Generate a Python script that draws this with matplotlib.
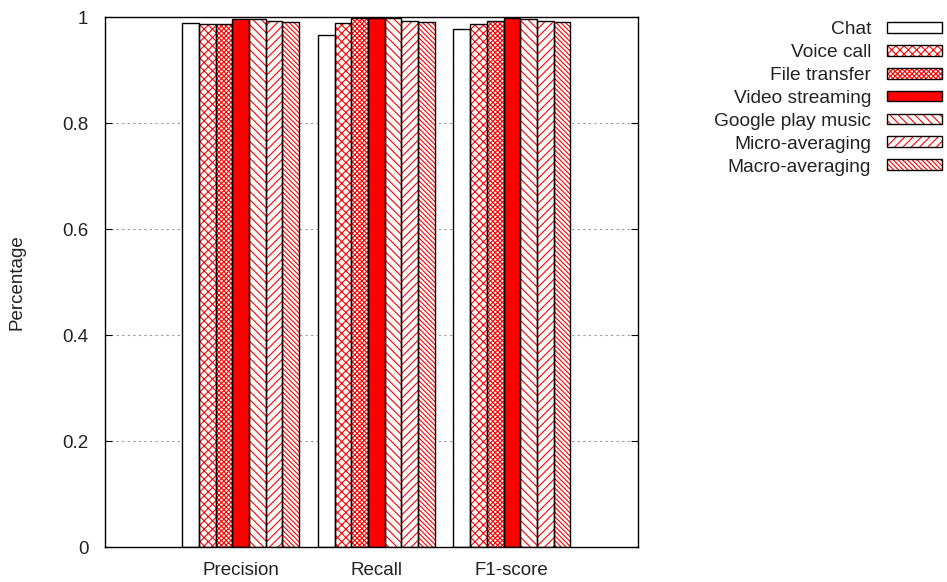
import matplotlib
matplotlib.use("Agg")
import matplotlib.pyplot as plt
import matplotlib.patches as patches
import numpy as np

plt.rcParams['font.family'] = ['Liberation Sans', 'DejaVu Sans']
plt.rcParams['hatch.linewidth'] = 0.8

# data
metrics = ["Precision", "Recall", "F1-score"]
series = ["Chat", "Voice call", "File transfer", "Video streaming",
          "Google play music", "Micro-averaging", "Macro-averaging"]
chat = [0.988, 0.966, 0.977]
voice_call = [0.986, 0.988, 0.986]
file_transfer = [0.986, 0.999, 0.992]
video_streaming = [0.997, 0.998, 0.998]
google_play = [0.997, 0.998, 0.996]
micro_avg = [0.992, 0.992, 0.992]
macro_avg = [0.990, 0.990, 0.990]
values = [chat, voice_call, file_transfer, video_streaming,
          google_play, micro_avg, macro_avg]
yticks = [0, 0.2, 0.4, 0.6, 0.8, 1]
ytick_labels = ["0", "0.2", "0.4", "0.6", "0.8", "1"]

# styles: (face colour, hatch)
styles = [("white", None), ("white", "xxxx"), ("white", "x" * 7), ("red", None),
          ("white", "\\" * 4), ("white", "////"), ("white", "\\" * 7)]

fig = plt.figure(figsize=(9.47, 5.82), dpi=100)
ax = fig.add_axes([105 / 947, 35 / 582, 533 / 947, 530 / 582])

x = np.arange(len(metrics))
w = 0.123
fs = 13.5
handles = []
for i, (name, vals) in enumerate(zip(series, values)):
    face, hatch = styles[i]
    pos = x + (i - 3) * w
    ax.bar(pos, vals, w, color=face, edgecolor="red", hatch=hatch,
           linewidth=0, zorder=2)
    ax.bar(pos, vals, w, fill=False, edgecolor="black", linewidth=1.0, zorder=3)
    h1 = patches.Rectangle((0, 0), 1, 1, facecolor=face, edgecolor="red",
                           hatch=hatch, linewidth=0)
    h2 = patches.Rectangle((0, 0), 1, 1, fill=False, edgecolor="black",
                           linewidth=1.0)
    handles.append((h1, h2))

ax.set_xlim(-1.0, 2.93)
ax.set_ylim(0, 1)
ax.set_xticks(x)
ax.set_xticklabels(metrics, fontsize=fs, color="#222222")
ax.tick_params(axis="x", length=0, pad=11)
ax.set_yticks(yticks)
ax.set_yticklabels(ytick_labels, fontsize=fs, color="#222222")
ax.tick_params(axis="y", direction="in", length=5, right=True, pad=12)
ax.set_ylabel("Percentage", fontsize=fs, labelpad=26, color="#222222")
for yv in yticks[1:-1]:
    ax.axhline(yv, color="#999999", linestyle=(0, (2, 3)), linewidth=0.8, zorder=1)
for s in ax.spines.values():
    s.set_linewidth(1.0)

fig.legend(handles, series, loc="upper right",
           bbox_to_anchor=(942 / 947, 1 - 21 / 582), frameon=False,
           markerfirst=False, fontsize=13.8, handlelength=2.85, handleheight=0.5,
           labelspacing=0.31, handletextpad=0.85, borderpad=0, borderaxespad=0,
           labelcolor="#222222")

fig.savefig("out.png", dpi=100)
